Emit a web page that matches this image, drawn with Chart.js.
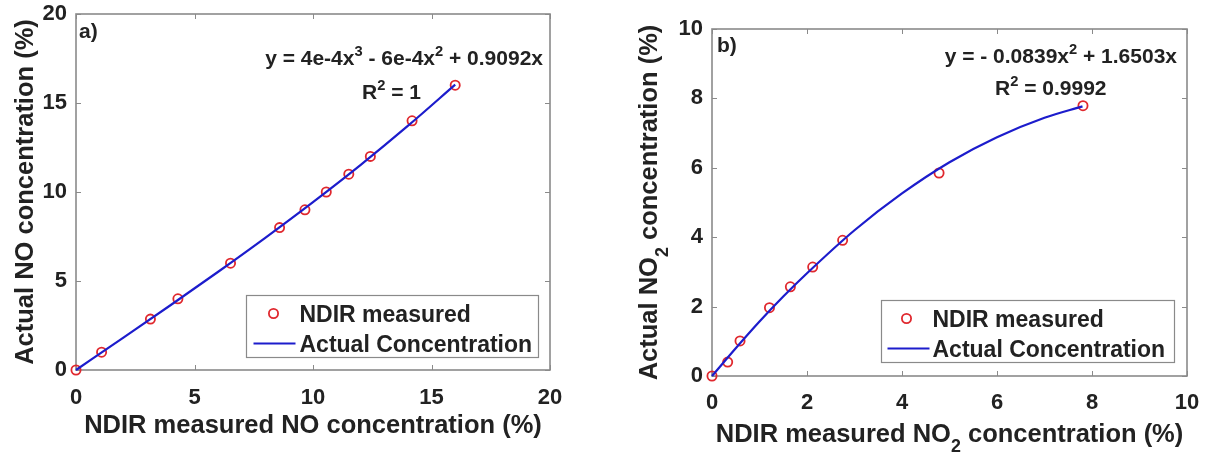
<!DOCTYPE html>
<html>
<head>
<meta charset="utf-8">
<script src="https://cdn.jsdelivr.net/npm/chart.js@4.4.1/dist/chart.umd.min.js"></script>
<style>
  html, body { margin: 0; padding: 0; background: #fff; }
  #wrap { position: relative; width: 1208px; height: 458px; overflow: hidden; background: #fff; }
  .panel { position: absolute; top: 0; height: 458px; }
  canvas { display: block; }
</style>
</head>
<body>
<div id="wrap">
  <div class="panel" style="left:0;width:600px"><canvas id="chartNO" width="600" height="458"></canvas></div>
  <div class="panel" style="left:600px;width:608px"><canvas id="chartNO2" width="608" height="458"></canvas></div>
</div>
<script>
// ---- a) NO calibration ----
const noMeasured = [0, 1.08, 3.14, 4.3, 6.52, 8.59, 9.66, 10.56, 11.51, 12.42, 14.18, 16.0];
const noActual   = [0, 1, 2.86, 4, 6, 8, 9, 10, 11, 12, 14, 16];
// fitted curve, read along its length
const noCurveX = [0, 2, 4, 6, 8, 10, 12, 14, 16];
const noCurveY = [0, 1.82, 3.65, 5.52, 7.44, 9.43, 11.51, 13.71, 16.03];
const noTicks  = [0, 5, 10, 15, 20];

// ---- b) NO2 calibration ----
const no2Measured = [0, 0.33, 0.59, 1.21, 1.65, 2.12, 2.75, 4.78, 7.81];
const no2Actual   = [0, 0.40, 1.01, 1.97, 2.57, 3.14, 3.91, 5.85, 7.79];
const no2CurveX = [0, 0.5, 1, 1.5, 2, 3, 4, 5, 6, 7, 7.8];
const no2CurveY = [0, 0.80, 1.57, 2.29, 2.96, 4.20, 5.26, 6.16, 6.88, 7.44, 7.77];
const no2Ticks  = [0, 2, 4, 6, 8, 10];

const seriesNames = ['NDIR measured', 'Actual Concentration'];

const FONT = '"Liberation Sans", Arial, Helvetica, sans-serif';
const INK = '#222222';
const FRAME = '#8a8a8a';
const RED = '#e0282e';
const BLUE = '#1c1ccc';

const toXY = (xs, ys) => xs.map((v, i) => ({ x: v, y: ys[i] }));

// draw a run of text pieces with super/subscripts; y is the baseline
function drawRuns(ctx, runs, x, y, size, align) {
  ctx.save();
  ctx.textBaseline = 'alphabetic';
  ctx.textAlign = 'left';
  ctx.fillStyle = INK;
  const sizes = runs.map(r => (r.sup || r.sub) ? size * 0.7 : size);
  let total = 0;
  const widths = runs.map((r, i) => {
    ctx.font = `bold ${sizes[i]}px ${FONT}`;
    const w = ctx.measureText(r.t).width;
    total += w;
    return w;
  });
  let cx = align === 'right' ? x - total : align === 'center' ? x - total / 2 : x;
  runs.forEach((r, i) => {
    ctx.font = `bold ${sizes[i]}px ${FONT}`;
    const dy = r.sup ? -size * 0.42 : r.sub ? size * 0.42 : 0;
    ctx.fillText(r.t, cx, y + dy);
    cx += widths[i];
  });
  ctx.restore();
}

// box, inward ticks, annotations, legend and axis titles
const panelDecor = {
  id: 'panelDecor',
  beforeDraw(chart) {
    const { ctx, width, height } = chart;
    ctx.save();
    ctx.fillStyle = '#fff';
    ctx.fillRect(0, 0, width, height);
    ctx.restore();
  },
  beforeDatasetsDraw(chart) {
    const { ctx, chartArea: a, scales: { x, y } } = chart;
    const TL = 5;
    ctx.save();
    ctx.strokeStyle = FRAME;
    ctx.lineWidth = 1;
    ctx.beginPath();
    x.ticks.forEach(t => {
      const px = Math.round(x.getPixelForValue(t.value)) + 0.5;
      ctx.moveTo(px, a.bottom); ctx.lineTo(px, a.bottom - TL);
      ctx.moveTo(px, a.top); ctx.lineTo(px, a.top + TL);
    });
    y.ticks.forEach(t => {
      const py = Math.round(y.getPixelForValue(t.value)) + 0.5;
      ctx.moveTo(a.left, py); ctx.lineTo(a.left + TL, py);
      ctx.moveTo(a.right, py); ctx.lineTo(a.right - TL, py);
    });
    ctx.stroke();
    ctx.lineWidth = 1.6;
    ctx.strokeRect(a.left, a.top, a.right - a.left, a.bottom - a.top);
    ctx.restore();
  },
  afterDraw(chart, args, o) {
    const { ctx, chartArea: a } = chart;
    const ds = chart.data.datasets;

    // panel tag
    drawRuns(ctx, [{ t: o.tag.t }], a.left + o.tag.dx, a.top + o.tag.cy + 0.36 * 21, 21, 'left');
    // fit equation and R²
    drawRuns(ctx, o.eq.runs, a.right - o.eq.dx, a.top + o.eq.cy + 0.36 * 21, 21, 'right');
    drawRuns(ctx, o.r2.runs, a.right - o.r2.dx, a.top + o.r2.cy + 0.36 * 21, 21, 'left');

    // legend
    const lg = o.legend;
    const bx = Math.round(a.right - lg.mr - lg.w) + 0.5;
    const by = Math.round(a.bottom - lg.mb - lg.h) + 0.5;
    ctx.save();
    ctx.fillStyle = '#fff';
    ctx.fillRect(bx, by, lg.w, lg.h);
    ctx.strokeStyle = FRAME;
    ctx.lineWidth = 1.2;
    ctx.strokeRect(bx, by, lg.w, lg.h);
    const r1 = by + 18, r2 = by + 48;
    ctx.strokeStyle = ds[0].borderColor;
    ctx.lineWidth = ds[0].borderWidth;
    ctx.beginPath();
    ctx.arc(bx + lg.mx, r1, ds[0].pointRadius, 0, Math.PI * 2);
    ctx.stroke();
    ctx.strokeStyle = ds[1].borderColor;
    ctx.lineWidth = ds[1].borderWidth;
    ctx.beginPath();
    ctx.moveTo(bx + lg.l0, r2); ctx.lineTo(bx + lg.l1, r2);
    ctx.stroke();
    ctx.restore();
    drawRuns(ctx, [{ t: ds[0].label }], bx + lg.tx, r1 + 0.36 * 23, 23, 'left');
    drawRuns(ctx, [{ t: ds[1].label }], bx + lg.tx, r2 + 0.36 * 23, 23, 'left');

    // axis titles
    const TS = 25.5;
    drawRuns(ctx, o.xTitle.runs, (a.left + a.right) / 2, a.bottom + o.xTitle.dy, TS, 'center');
    ctx.save();
    ctx.translate(a.left - o.yTitle.dx, (a.top + a.bottom) / 2);
    ctx.rotate(-Math.PI / 2);
    drawRuns(ctx, o.yTitle.runs, 0, 0, TS, 'center');
    ctx.restore();
  }
};

function makeChart(id, cfg) {
  const tickFont = { family: FONT, size: 22, weight: 'bold' };
  return new Chart(document.getElementById(id), {
    type: 'scatter',
    data: {
      datasets: [
        {
          label: seriesNames[0],
          data: toXY(cfg.mx, cfg.my),
          showLine: false,
          pointStyle: 'circle',
          pointRadius: 4.6,
          pointHoverRadius: 4.6,
          pointBorderWidth: 1.8,
          borderWidth: 1.8,
          borderColor: RED,
          pointBorderColor: RED,
          backgroundColor: 'rgba(0,0,0,0)',
          pointBackgroundColor: 'rgba(0,0,0,0)',
          clip: false,
          order: 2
        },
        {
          label: seriesNames[1],
          data: toXY(cfg.cx, cfg.cy),
          showLine: true,
          pointRadius: 0,
          borderColor: BLUE,
          borderWidth: 2.2,
          cubicInterpolationMode: 'monotone',
          fill: false,
          clip: false,
          order: 1
        }
      ]
    },
    options: {
      responsive: false,
      animation: false,
      devicePixelRatio: 1,
      layout: { padding: { top: cfg.padTop, right: cfg.padRight, left: 0, bottom: 0 } },
      scales: {
        x: {
          type: 'linear',
          min: cfg.ticks[0],
          max: cfg.ticks[cfg.ticks.length - 1],
          afterFit(s) { s.height = cfg.xH; s.paddingLeft = 0; s.paddingRight = 0; },
          afterBuildTicks(s) { s.ticks = cfg.ticks.map(v => ({ value: v })); },
          ticks: { padding: cfg.xPad, color: INK, font: tickFont, maxRotation: 0, autoSkip: false },
          grid: { display: false, drawTicks: false },
          border: { display: false }
        },
        y: {
          type: 'linear',
          min: cfg.ticks[0],
          max: cfg.ticks[cfg.ticks.length - 1],
          afterFit(s) { s.width = cfg.yW; s.paddingTop = 0; s.paddingBottom = 0; },
          afterBuildTicks(s) { s.ticks = cfg.ticks.map(v => ({ value: v })); },
          ticks: { padding: 9, color: INK, font: tickFont, autoSkip: false },
          grid: { display: false, drawTicks: false },
          border: { display: false }
        }
      },
      plugins: {
        legend: { display: false },
        tooltip: { enabled: false },
        panelDecor: cfg.decor
      }
    },
    plugins: [panelDecor]
  });
}

makeChart('chartNO', {
  mx: noMeasured, my: noActual, cx: noCurveX, cy: noCurveY, ticks: noTicks,
  padTop: 14, padRight: 50, xH: 88, yW: 76, xPad: 15,
  decor: {
    tag: { t: 'a)', dx: 3, cy: 16 },
    eq: { dx: 7, cy: 43, runs: [
      { t: 'y = 4e-4x' }, { t: '3', sup: true }, { t: ' - 6e-4x' }, { t: '2', sup: true }, { t: ' + 0.9092x' }
    ] },
    r2: { dx: 188, cy: 77, runs: [{ t: 'R' }, { t: '2', sup: true }, { t: ' = 1' }] },
    legend: { w: 292, h: 62, mr: 12, mb: 13, mx: 27, l0: 7, l1: 49, tx: 53 },
    xTitle: { dy: 63, runs: [{ t: 'NDIR measured NO concentration (%)' }] },
    yTitle: { dx: 43, runs: [{ t: 'Actual NO concentration (%)' }] }
  }
});

makeChart('chartNO2', {
  mx: no2Measured, my: no2Actual, cx: no2CurveX, cy: no2CurveY, ticks: no2Ticks,
  padTop: 29, padRight: 21, xH: 82, yW: 112, xPad: 14,
  decor: {
    tag: { t: 'b)', dx: 5, cy: 15 },
    eq: { dx: 10, cy: 26, runs: [
      { t: 'y = - 0.0839x' }, { t: '2', sup: true }, { t: ' + 1.6503x' }
    ] },
    r2: { dx: 192, cy: 58, runs: [{ t: 'R' }, { t: '2', sup: true }, { t: ' = 0.9992' }] },
    legend: { w: 293, h: 62, mr: 13, mb: 14, mx: 25, l0: 6, l1: 48, tx: 51 },
    xTitle: { dy: 65.5, runs: [{ t: 'NDIR measured NO' }, { t: '2', sub: true }, { t: ' concentration (%)' }] },
    yTitle: { dx: 55, runs: [{ t: 'Actual NO' }, { t: '2', sub: true }, { t: ' concentration (%)' }] }
  }
});
</script>
</body>
</html>
